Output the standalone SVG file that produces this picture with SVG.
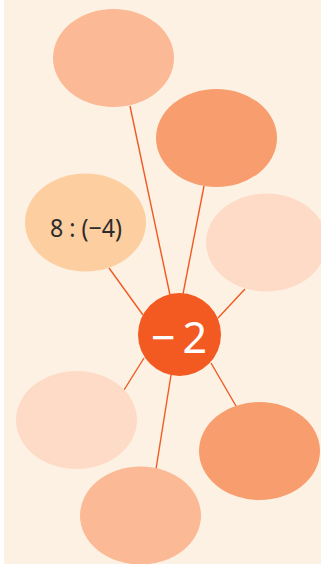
<svg xmlns="http://www.w3.org/2000/svg" width="321" height="564" viewBox="0 0 321 564">
<style>
.c{stroke:#F05A22;stroke-width:1.4;fill:none}
.a{fill:#FBB996}.b{fill:#F79D6E}.p{fill:#FDDBC7}.y{fill:#FDCE9F}
.t{font-family:"Noto Sans","DejaVu Sans",sans-serif}
</style>
<rect x="0" y="0" width="321" height="564" fill="#FFFFFF"/>
<rect x="4" y="0" width="317" height="564" fill="#FDF1E3"/>
<g id="connectors">
<line class="c" x1="130" y1="106" x2="170" y2="295"/>
<line class="c" x1="204" y1="186" x2="183" y2="294"/>
<line class="c" x1="109" y1="268" x2="143" y2="315"/>
<line class="c" x1="245" y1="289" x2="218" y2="318"/>
<line class="c" x1="144" y1="358" x2="124" y2="390"/>
<line class="c" x1="171" y1="375" x2="156" y2="469"/>
<line class="c" x1="211" y1="363" x2="236" y2="406"/>
</g>
<g id="n1"><ellipse class="a" cx="113.5" cy="58" rx="60.5" ry="49"/></g>
<g id="n2"><ellipse class="b" cx="216.5" cy="138" rx="60.5" ry="49"/></g>
<g id="n3"><ellipse class="y" cx="85.5" cy="222.5" rx="60.5" ry="49"/>
<text class="t" x="50" y="237" font-size="25" fill="#2B2B2B" textLength="72" lengthAdjust="spacingAndGlyphs">8 : (−4)</text></g>
<g id="n4"><ellipse class="p" cx="266.5" cy="242.5" rx="60.5" ry="49"/></g>
<g id="n5"><ellipse class="p" cx="76.5" cy="420" rx="60.5" ry="49"/></g>
<g id="n6"><ellipse class="a" cx="140.5" cy="515.5" rx="60.5" ry="49"/></g>
<g id="n7"><ellipse class="b" cx="259.5" cy="451" rx="60.5" ry="49"/></g>
<g id="center"><circle cx="179.5" cy="334.5" r="41.5" fill="#F25A22"/>
<text class="t" x="151" y="353" font-size="43" fill="#FFFFFF">−<tspan dx="7">2</tspan></text></g>
</svg>
